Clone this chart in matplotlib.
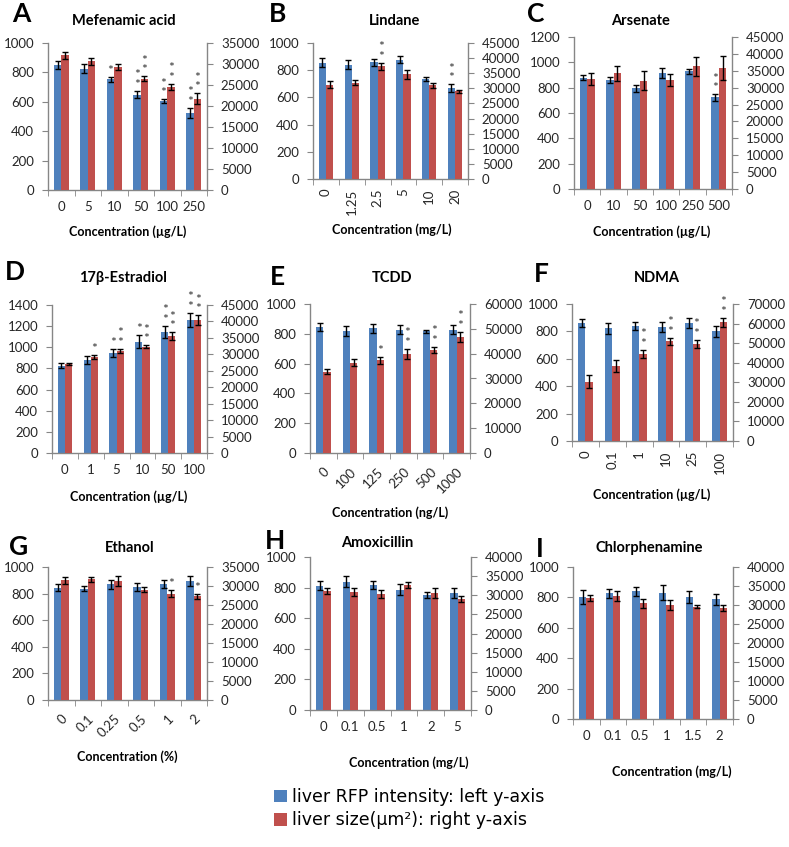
import numpy as np
import matplotlib
matplotlib.use("Agg")
import matplotlib.pyplot as plt
from matplotlib.patches import Patch
from matplotlib.ticker import FixedLocator, MultipleLocator

plt.rcParams['font.family'] = ['Lato', 'DejaVu Sans']

BLUE = '#4F81BD'
RED = '#C0504D'
GRAY = '#868686'

# ---------------- data ----------------
titles = ['Mefenamic acid', 'Lindane', 'Arsenate', '17β-Estradiol', 'TCDD', 'NDMA',
          'Ethanol', 'Amoxicillin', 'Chlorphenamine']
letters = ['A', 'B', 'C', 'D', 'E', 'F', 'G', 'H', 'I']
xlabels = ['Concentration (µg/L)', 'Concentration (mg/L)', 'Concentration (µg/L)',
           'Concentration (µg/L)', 'Concentration (ng/L)', 'Concentration (µg/L)',
           'Concentration (%)', 'Concentration (mg/L)', 'Concentration (mg/L)']

conc_A = ['0', '5', '10', '50', '100', '250']
conc_B = ['0', '1.25', '2.5', '5', '10', '20']
conc_C = ['0', '10', '50', '100', '250', '500']
conc_D = ['0', '1', '5', '10', '50', '100']
conc_E = ['0', '100', '125', '250', '500', '1000']
conc_F = ['0', '0.1', '1', '10', '25', '100']
conc_G = ['0', '0.1', '0.25', '0.5', '1', '2']
conc_H = ['0', '0.1', '0.5', '1', '2', '5']
conc_I = ['0', '0.1', '0.5', '1', '1.5', '2']

# liver RFP intensity (left axis)
rfp_A = [848, 826, 753, 649, 604, 525]
rfp_B = [856, 841, 858, 878, 738, 670]
rfp_C = [878, 859, 794, 917, 930, 723]
rfp_D = [825, 879, 948, 1052, 1147, 1258]
rfp_E = [845, 820, 838, 827, 816, 827]
rfp_F = [861, 824, 837, 832, 861, 800]
rfp_G = [845, 838, 870, 850, 870, 895]
rfp_H = [812, 838, 816, 787, 749, 765]
rfp_I = [804, 826, 841, 830, 800, 787]

rfp_err_A = [28, 30, 18, 25, 12, 35]
rfp_err_B = [33, 33, 25, 25, 15, 28]
rfp_err_C = [20, 25, 25, 42, 20, 25]
rfp_err_D = [25, 40, 40, 60, 55, 70]
rfp_err_E = [25, 35, 30, 30, 12, 30]
rfp_err_F = [30, 40, 28, 35, 35, 40]
rfp_err_G = [25, 20, 35, 30, 30, 35]
rfp_err_H = [30, 35, 25, 35, 20, 30]
rfp_err_I = [45, 28, 30, 50, 40, 35]

# liver size (right axis, µm²)
size_A = [32070, 30650, 29300, 26530, 24550, 21780]
size_B = [31230, 31900, 37300, 34650, 31000, 29040]
size_C = [32700, 34200, 32030, 32220, 36350, 35760]
size_D = [27030, 29250, 31080, 32300, 35550, 40430]
size_E = [32760, 36400, 37340, 39780, 41530, 46650]
size_F = [30390, 38410, 44570, 50880, 49680, 60610]
size_G = [31500, 31770, 31330, 29050, 28000, 27300]
size_H = [31040, 30870, 30330, 32640, 30600, 29090]
size_I = [31740, 32350, 30420, 30000, 29550, 29110]

size_err_A = [875, 875, 770, 525, 770, 1225]
size_err_B = [1260, 900, 1125, 1575, 900, 540]
size_err_C = [1770, 2250, 2800, 1700, 2750, 3600]
size_err_D = [320, 640, 640, 480, 1125, 1450]
size_err_E = [900, 1500, 1320, 2100, 1320, 2100]
size_err_F = [3150, 3150, 2100, 1750, 2100, 2450]
size_err_G = [875, 700, 1400, 700, 875, 700]
size_err_H = [800, 1000, 1000, 800, 1400, 800]
size_err_I = [800, 1400, 1200, 1200, 400, 800]

# significance stars (count per bar)
stars_rfp_A = [0, 0, 1, 2, 2, 2]
stars_rfp_B = [0, 0, 0, 0, 0, 2]
stars_rfp_C = [0, 0, 0, 0, 0, 2]
stars_rfp_D = [0, 0, 1, 1, 2, 2]
stars_rfp_E = [0, 0, 0, 0, 0, 0]
stars_rfp_F = [0, 0, 0, 0, 0, 0]
stars_rfp_G = [0, 0, 0, 0, 0, 0]
stars_rfp_H = [0, 0, 0, 0, 0, 0]
stars_rfp_I = [0, 0, 0, 0, 0, 0]

stars_size_A = [0, 0, 0, 2, 2, 2]
stars_size_B = [0, 0, 2, 0, 0, 0]
stars_size_C = [0, 0, 0, 0, 0, 0]
stars_size_D = [0, 1, 2, 2, 2, 2]
stars_size_E = [0, 0, 1, 2, 2, 2]
stars_size_F = [0, 0, 2, 2, 2, 2]
stars_size_G = [0, 0, 0, 0, 1, 1]
stars_size_H = [0, 0, 0, 0, 0, 0]
stars_size_I = [0, 0, 0, 0, 0, 0]

left_max = [1000, 1000, 1200, 1400, 1000, 1000, 1000, 1000, 1000]
right_max = [35000, 45000, 45000, 45000, 60000, 70000, 35000, 40000, 40000]
right_step = [5000, 5000, 5000, 5000, 10000, 10000, 5000, 5000, 5000]

concs = [conc_A, conc_B, conc_C, conc_D, conc_E, conc_F, conc_G, conc_H, conc_I]
rfps = [rfp_A, rfp_B, rfp_C, rfp_D, rfp_E, rfp_F, rfp_G, rfp_H, rfp_I]
rfp_errs = [rfp_err_A, rfp_err_B, rfp_err_C, rfp_err_D, rfp_err_E, rfp_err_F, rfp_err_G, rfp_err_H, rfp_err_I]
sizes = [size_A, size_B, size_C, size_D, size_E, size_F, size_G, size_H, size_I]
size_errs = [size_err_A, size_err_B, size_err_C, size_err_D, size_err_E, size_err_F, size_err_G, size_err_H, size_err_I]
stars_rfp = [stars_rfp_A, stars_rfp_B, stars_rfp_C, stars_rfp_D, stars_rfp_E, stars_rfp_F, stars_rfp_G, stars_rfp_H, stars_rfp_I]
stars_size = [stars_size_A, stars_size_B, stars_size_C, stars_size_D, stars_size_E, stars_size_F, stars_size_G, stars_size_H, stars_size_I]

# ---------------- layout (pixel boxes: x0, x1, y0, y1) ----------------
W, H = 789, 847
boxes = [(48, 207, 43, 190), (313, 468, 43, 179), (574, 732, 37, 189),
         (52, 207, 305, 453), (310, 470, 304, 453), (572, 733, 304, 441),
         (48, 207, 567, 700), (310, 471, 557, 710), (573, 733, 567, 719)]
rotations = [0, 90, 0, 0, 45, 90, 45, 0, 0]
title_pos = [(124, 21), (395, 21), (641, 21), (123, 278), (392, 278), (657, 278),
             (130, 548), (377, 543), (649, 548)]
letter_pos = [(21, 14), (278, 14), (536, 14), (15, 272), (277, 277), (541, 274),
              (19, 547), (275, 541), (540, 549)]
xlabel_pos = [(128, 232), (392, 230), (652, 232), (129, 497), (390, 513), (652, 495),
              (127, 757), (409, 763), (672, 772)]

fig = plt.figure(figsize=(W / 100, H / 100), dpi=100)
fig.patch.set_facecolor('white')

bw = 0.28
TICKC = '#262626'


def add_stars(ax, x, top, n):
    ax.annotate('\n'.join(['*'] * n), xy=(x, top), xytext=(0, 0), textcoords='offset points',
                ha='center', va='bottom', fontsize=10, color='#333333', linespacing=0.75)


for i in range(9):
    x0, x1, y0, y1 = boxes[i]
    ax = fig.add_axes([x0 / W, 1 - y1 / H, (x1 - x0) / W, (y1 - y0) / H])
    ax2 = ax.twinx()
    x = np.arange(len(concs[i]))
    ax.bar(x - bw / 2, rfps[i], width=bw, color=BLUE, zorder=2)
    ax.errorbar(x - bw / 2, rfps[i], yerr=rfp_errs[i], fmt='none', ecolor='black',
                elinewidth=1, capsize=2.5, capthick=1, zorder=3)
    ax2.bar(x + bw / 2, sizes[i], width=bw, color=RED, zorder=2)
    ax2.errorbar(x + bw / 2, sizes[i], yerr=size_errs[i], fmt='none', ecolor='black',
                 elinewidth=1, capsize=2.5, capthick=1, zorder=3)
    for j in range(len(x)):
        if stars_rfp[i][j]:
            add_stars(ax, x[j] - bw / 2, rfps[i][j] + rfp_errs[i][j], stars_rfp[i][j])
        if stars_size[i][j]:
            add_stars(ax2, x[j] + bw / 2, sizes[i][j] + size_errs[i][j], stars_size[i][j])

    ax.set_xlim(-0.5, len(x) - 0.5)
    ax.set_ylim(0, left_max[i])
    ax2.set_ylim(0, right_max[i])
    ax.yaxis.set_major_locator(MultipleLocator(200))
    ax2.yaxis.set_major_locator(MultipleLocator(right_step[i]))

    for a in (ax, ax2):
        a.spines['top'].set_visible(False)
        for s in ('left', 'right', 'bottom'):
            a.spines[s].set_color(GRAY)
            a.spines[s].set_linewidth(1)
    ax2.spines['left'].set_visible(False)
    ax2.spines['bottom'].set_visible(False)
    ax.spines['right'].set_visible(False)

    ax.tick_params(axis='y', direction='out', length=4, color=GRAY, labelsize=9.5,
                   labelcolor=TICKC, pad=6)
    ax2.tick_params(axis='y', direction='out', length=4, color=GRAY, labelsize=9.5,
                    labelcolor=TICKC, pad=6)

    ax.set_xticks(x)
    if rotations[i] == 0:
        ax.set_xticklabels(concs[i])
        xpad = 8
    elif rotations[i] == 90:
        ax.set_xticklabels(concs[i], rotation=90, ha='center', va='top')
        xpad = 7
    else:
        ax.set_xticklabels(concs[i], rotation=45, ha='right', rotation_mode='anchor')
        xpad = 9
    ax.tick_params(axis='x', which='major', length=0, labelsize=9.5, labelcolor=TICKC,
                   pad=xpad)
    ax.xaxis.set_minor_locator(FixedLocator(np.arange(-0.5, len(x), 1.0)))
    ax.tick_params(axis='x', which='minor', length=4, color=GRAY, direction='out')

    tx, ty = title_pos[i]
    fig.text(tx / W, 1 - ty / H, titles[i], ha='center', va='center', fontsize=10.5,
             fontweight='bold', color='black')
    lx, ly = letter_pos[i]
    fig.text(lx / W, 1 - ly / H, letters[i], ha='center', va='center', fontsize=19,
             fontweight='bold', color='black')
    xx, xy = xlabel_pos[i]
    fig.text(xx / W, 1 - xy / H, xlabels[i], ha='center', va='center', fontsize=9,
             fontweight='bold', color='black')

handles = [Patch(facecolor=BLUE, edgecolor='none'), Patch(facecolor=RED, edgecolor='none')]
legend_labels = ['liver RFP intensity: left y-axis', 'liver size(μm²): right y-axis']
fig.legend(handles, legend_labels, loc='upper left',
           bbox_to_anchor=(274 / W, 1 - 788 / H), frameon=False,
           prop={'family': 'DejaVu Sans', 'size': 12.5},
           handlelength=0.75, handleheight=0.75, handletextpad=0.3, labelspacing=0.3,
           borderaxespad=0, borderpad=0)

fig.savefig('out.png', dpi=100, facecolor='white')
